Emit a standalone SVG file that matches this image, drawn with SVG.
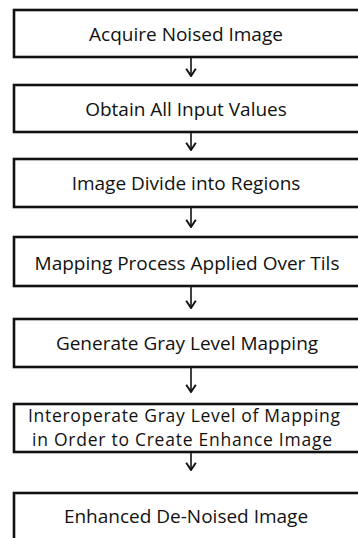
<svg xmlns="http://www.w3.org/2000/svg" width="358" height="538" viewBox="0 0 358 538">
<defs>
<style>
.box{fill:#fff;stroke:#111;stroke-width:2.6}
.lbl{font-family:"Open Sans","Liberation Sans",sans-serif;font-size:19px;fill:#111;text-anchor:middle}
.sm{font-size:17.5px}
.con{stroke:#111;stroke-width:1.6;fill:none}
</style>
<marker id="ah" markerWidth="12" markerHeight="12" refX="9" refY="5" orient="auto" markerUnits="userSpaceOnUse" viewBox="0 0 10 10">
<path d="M3,1 L9,5 L3,9" fill="none" stroke="#111" stroke-width="1.6"/>
</marker>
</defs>
<rect width="358" height="538" fill="#fff"/>
<g id="n1"><rect class="box" x="14" y="10" width="360" height="47"/><text class="lbl" x="186" y="41">Acquire Noised Image</text></g>
<g id="n2"><rect class="box" x="14" y="85" width="360" height="47"/><text class="lbl" x="186" y="116">Obtain All Input Values</text></g>
<g id="n3"><rect class="box" x="14" y="159" width="360" height="48"/><text class="lbl" x="186" y="190">Image Divide into Regions</text></g>
<g id="n4"><rect class="box" x="14" y="237" width="360" height="49"/><text class="lbl" x="187" y="270">Mapping Process Applied Over Tils</text></g>
<g id="n5"><rect class="box" x="14" y="319" width="360" height="48"/><text class="lbl" x="187" y="350">Generate Gray Level Mapping</text></g>
<g id="n6"><rect class="box" x="14" y="404" width="360" height="48"/><text class="lbl sm" x="184" y="422" textLength="312" lengthAdjust="spacing">Interoperate Gray Level of Mapping</text><text class="lbl sm" x="182" y="446" textLength="300" lengthAdjust="spacing">in Order to Create Enhance Image</text></g>
<g id="n7"><rect class="box" x="14" y="493" width="360" height="60"/><text class="lbl" x="186" y="523">Enhanced De-Noised Image</text></g>
<g id="connectors">
<line class="con" x1="191" y1="58" x2="191" y2="76" marker-end="url(#ah)"/>
<line class="con" x1="191" y1="133" x2="191" y2="150" marker-end="url(#ah)"/>
<line class="con" x1="191" y1="208" x2="191" y2="227" marker-end="url(#ah)"/>
<line class="con" x1="191" y1="287" x2="191" y2="308" marker-end="url(#ah)"/>
<line class="con" x1="191" y1="368" x2="191" y2="392" marker-end="url(#ah)"/>
<line class="con" x1="191" y1="453" x2="191" y2="470" marker-end="url(#ah)"/>
</g>
</svg>
